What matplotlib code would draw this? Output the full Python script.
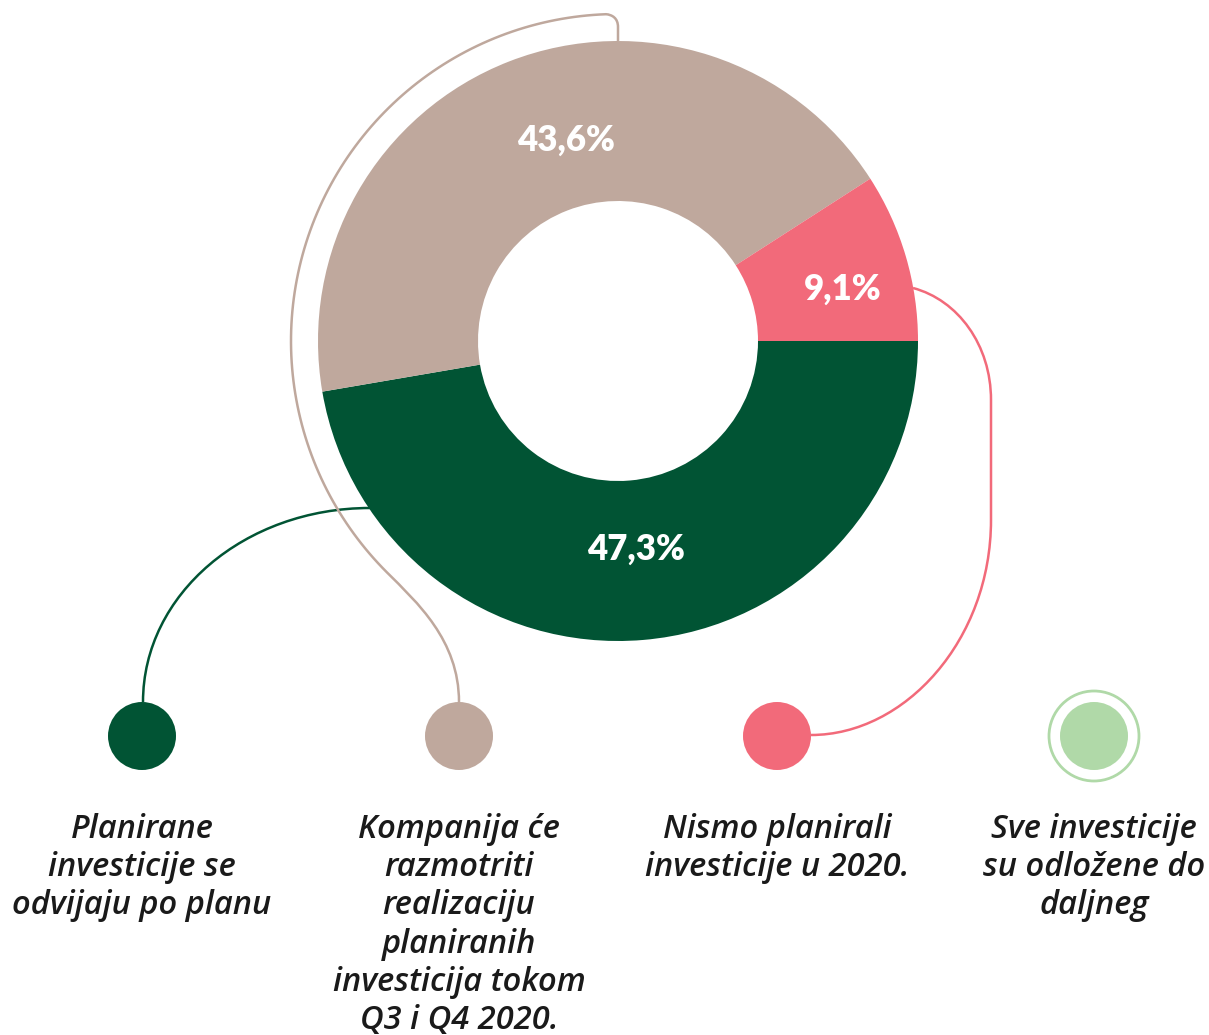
import numpy as np
import matplotlib.pyplot as plt
from matplotlib.path import Path
from matplotlib.patches import PathPatch, Circle

# data
categories = ['Planirane\ninvesticije se\nodvijaju po planu',
              'Kompanija će\nrazmotriti\nrealizaciju\nplaniranih\ninvesticija tokom\nQ3 i Q4 2020.',
              'Nismo planirali\ninvesticije u 2020.',
              'Sve investicije\nsu odložene do\ndaljneg']
values = [47.3, 43.6, 9.1, 0.0]
colors = ['#015434', '#BFA89D', '#F26A7A', '#B0D9A8']

W, H = 1209, 1035
fig = plt.figure(figsize=(W / 100, H / 100), dpi=100)
ax = fig.add_axes([0, 0, 1, 1])

cx, cy, R, ring = 618, 341, 300, 160
shown = [v for v in values if v > 0]
wedges, _ = ax.pie(shown, colors=colors[:len(shown)], startangle=0, counterclock=True,
                   radius=R, center=(cx, cy), wedgeprops=dict(width=ring, linewidth=0))

# percentage labels (y axis is flipped below, angles run clockwise on screen)
lab_r = [209, 207, 231]
lab_shift = [0, 6.7, 3.4]
for i, w in enumerate(wedges):
    a = np.deg2rad((w.theta1 + w.theta2) / 2 + lab_shift[i])
    ax.text(cx + lab_r[i] * np.cos(a), cy + lab_r[i] * np.sin(a),
            f'{values[i]:.1f}%'.replace('.', ','), color='white', fontsize=25,
            fontweight='heavy', family='Lato', ha='center', va='center')

# legend dots and texts
dot_x = [142, 459, 777, 1094]
dot_y = 736
for i, c in enumerate(colors):
    ax.add_patch(Circle((dot_x[i], dot_y), 34, color=c, lw=0))
    ax.text(dot_x[i], 813, categories[i], ha='center', va='top', fontsize=23.5,
            family='Open Sans', style='italic', fontweight='semibold', color='#1a1a1a',
            linespacing=1.21)
ax.add_patch(Circle((dot_x[3], dot_y), 45, fill=False, ec=colors[3], lw=2))

# connector lines
def curve(verts, codes, col):
    ax.add_patch(PathPatch(Path(verts, codes), fill=False, ec=col, lw=1.8))

# green
curve([(370, 508), (245, 508), (143, 594), (143, 702)],
      [Path.MOVETO, Path.CURVE4, Path.CURVE4, Path.CURVE4], colors[0])

# tan: up from top, big arc round the left, then down to its dot
rr = 327
a0 = np.arccos(-12 / rr)
ang = np.linspace(-a0, -np.deg2rad(225), 120)
arc = [(cx + rr * np.cos(t), cy + rr * np.sin(t)) for t in ang]
ex, ey = arc[-1]
verts = [(618, 41), (618, 27), (618, 18), (612, cy - rr * np.sin(a0) + 0.5), arc[0]] + arc[1:] + \
        [(ex + 30, ey + 30), (459, 640), (459, 702)]
codes = [Path.MOVETO, Path.LINETO, Path.CURVE4, Path.CURVE4, Path.CURVE4] + \
        [Path.LINETO] * (len(arc) - 1) + [Path.CURVE4] * 3
curve(verts, codes, colors[1])

# pink
curve([(913, 288), (958, 300), (991, 345), (991, 400), (991, 520),
       (991, 640), (905, 735), (811, 735)],
      [Path.MOVETO, Path.CURVE4, Path.CURVE4, Path.CURVE4, Path.LINETO,
       Path.CURVE4, Path.CURVE4, Path.CURVE4], colors[2])

ax.set_xlim(0, W)
ax.set_ylim(H, 0)
ax.set_aspect('equal')
ax.axis('off')
fig.savefig('out.png', dpi=100, facecolor='white')
